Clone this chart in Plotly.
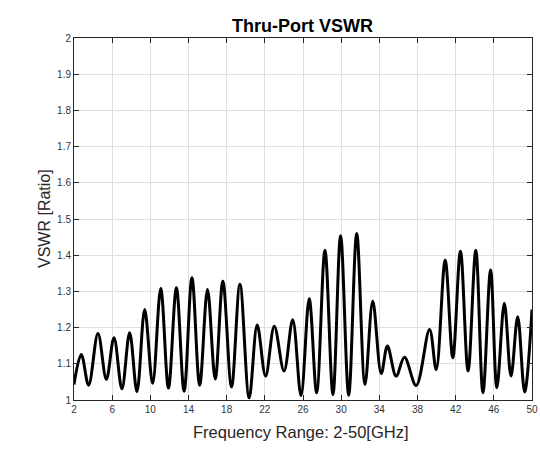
import plotly.graph_objects as go

freq_ghz = [2.0, 2.76, 3.53, 4.51, 5.39, 6.19, 7.02, 7.83, 8.6, 9.41, 10.24, 11.09, 11.9, 12.73,
            13.54, 14.36, 15.17, 15.99, 16.8, 17.6, 18.51, 19.39, 20.36, 21.2, 22.08, 22.99,
            24.01, 24.92, 25.79, 26.65, 27.43, 28.3, 29.14, 29.94, 30.79, 31.63, 32.5, 33.31,
            34.2, 34.85, 35.76, 36.63, 37.86, 39.26, 39.96, 40.9, 41.7, 42.5, 43.3, 44.11,
            44.86, 45.66, 46.32, 47.1, 47.8, 48.5, 49.23, 50.0]
vswr = [1.043, 1.126, 1.041, 1.184, 1.057, 1.172, 1.031, 1.186, 1.023, 1.25, 1.046, 1.308, 1.033, 1.31,
        1.024, 1.338, 1.041, 1.305, 1.058, 1.328, 1.036, 1.32, 1.006, 1.207, 1.066, 1.204,
        1.08, 1.222, 1.012, 1.28, 1.02, 1.414, 1.015, 1.454, 1.013, 1.46, 1.043, 1.273,
        1.073, 1.149, 1.066, 1.118, 1.04, 1.195, 1.084, 1.386, 1.117, 1.411, 1.08, 1.414,
        1.02, 1.359, 1.034, 1.267, 1.066, 1.23, 1.022, 1.25]

x_ticks = list(range(2, 51, 4))
y_ticks = [1, 1.1, 1.2, 1.3, 1.4, 1.5, 1.6, 1.7, 1.8, 1.9, 2]
y_tick_labels = ["1", "1.1", "1.2", "1.3", "1.4", "1.5", "1.6", "1.7", "1.8", "1.9", "2"]

font = "Liberation Sans, Arial, Helvetica, sans-serif"
axis_col = "#262626"
tick_col = "#333333"
grid_col = "#dfdfdf"

W, H = 540, 450
L, R, T, B = 74, 8, 38, 50
PW, PH = W - L - R, H - T - B

fig = go.Figure()
fig.add_trace(go.Scatter(
    x=freq_ghz, y=vswr, mode="lines",
    line=dict(color="black", width=3, shape="spline", smoothing=1.0),
    showlegend=False, hoverinfo="x+y",
))

fig.update_layout(
    width=W, height=H,
    margin=dict(l=L, r=R, t=T, b=B, autoexpand=False),
    paper_bgcolor="white", plot_bgcolor="white",
    font=dict(family=font, color=axis_col, size=10),
    title=dict(text="<b>Thru-Port VSWR</b>", x=302.5 / W, xanchor="center", y=1 - 25.5 / H, yanchor="middle",
               font=dict(family=font, size=18, color="black")),
    annotations=[
        dict(text="Frequency Range: 2-50[GHz]", xref="paper", yref="paper", x=(301 - L) / PW,
             y=-31.6 / PH, xanchor="center", yanchor="middle", showarrow=False,
             font=dict(family=font, size=16.5, color=axis_col)),
        dict(text="VSWR [Ratio]", xref="paper", yref="paper", x=(44 - L) / PW, y=0.5,
             xanchor="center", yanchor="middle", showarrow=False, textangle=-90,
             font=dict(family=font, size=16, color=axis_col)),
    ],
)
fig.update_xaxes(
    range=[2, 50], tickvals=x_ticks, ticktext=[str(v) for v in x_ticks],
    showgrid=True, gridcolor=grid_col, gridwidth=1,
    showline=True, linecolor=axis_col, linewidth=1, mirror="ticks",
    ticks="inside", ticklen=5, tickcolor=axis_col, zeroline=False,
    tickfont=dict(size=10, color=tick_col), automargin=False,
)
fig.update_yaxes(
    range=[1, 2], tickvals=y_ticks, ticktext=y_tick_labels,
    showgrid=True, gridcolor=grid_col, gridwidth=1,
    showline=True, linecolor=axis_col, linewidth=1, mirror="ticks",
    ticks="inside", ticklen=5, tickcolor=axis_col, zeroline=False,
    tickfont=dict(size=10, color=tick_col), automargin=False,
)

fig.write_html("out.html", config={"displayModeBar": False},
               post_script="document.body.style.margin='0';document.body.style.overflow='hidden';")
